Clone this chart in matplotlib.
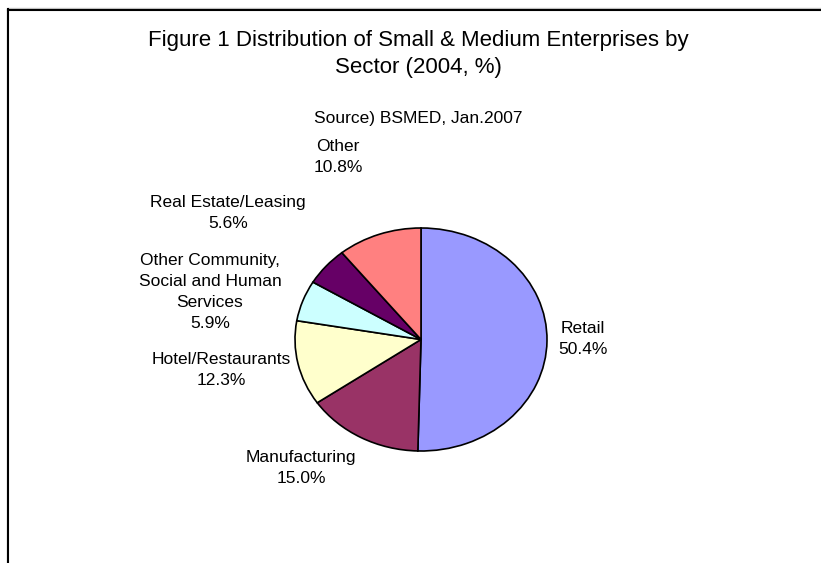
import matplotlib
matplotlib.use("Agg")
import matplotlib.pyplot as plt

plt.rcParams['font.family'] = ['Liberation Sans', 'DejaVu Sans']

# --- data --- #
sectors = ["Retail", "Manufacturing", "Hotel/Restaurants",
           "Other Community,\nSocial and Human\nServices",
           "Real Estate/Leasing", "Other"]
shares = [50.4, 15.0, 12.3, 5.9, 5.6, 10.8]
colors = ["#9999FF", "#993366", "#FFFFCC", "#CCFFFF", "#660066", "#FF8080"]

title = "Figure 1 Distribution of Small & Medium Enterprises by\nSector (2004, %)"
source = "Source) BSMED, Jan.2007"

# label centres in pixel space (x, y from top-left)
label_xy = [(583, 339), (301, 468), (221, 370), (210, 292), (228, 213), (338, 157)]

W, H = 821, 563
fig = plt.figure(figsize=(W / 100, H / 100), dpi=100)

# pie box: slightly wider than tall, like the original sheet
left, right, top, bottom = 295, 547, 228, 451
ax_pie = fig.add_axes([left / W, 1 - bottom / H, (right - left) / W, (bottom - top) / H])
ax_pie.pie(shares, colors=colors, startangle=90, counterclock=False,
           wedgeprops=dict(edgecolor="black", linewidth=1.2))
ax_pie.set_xlim(-1, 1)
ax_pie.set_ylim(-1, 1)
ax_pie.set_aspect("auto")
ax_pie.axis("off")

# overlay in pixel coordinates for frame and text
ov = fig.add_axes([0, 0, 1, 1], zorder=5)
ov.set_xlim(0, W)
ov.set_ylim(H, 0)
ov.axis("off")

# chart frame: only top and left edges visible
ov.plot([8, W], [8, 8], color="#c8c8c8", lw=1)
ov.plot([8, W], [9.5, 9.5], color="black", lw=1.5)
ov.plot([6.5, 6.5], [9, H], color="#c8c8c8", lw=1)
ov.plot([8, 8], [9, H], color="black", lw=1.5)

ov.text(418, 54, title, ha="center", va="center", fontsize=16,
        linespacing=1.42)
ov.text(418, 119, source, ha="center", va="center", fontsize=12.5)

for name, val, (x, y) in zip(sectors, shares, label_xy):
    ov.text(x, y, f"{name}\n{val:.1f}%", ha="center", va="center",
            multialignment="center", fontsize=12.5, linespacing=1.5)

fig.savefig("out.png", dpi=100)
